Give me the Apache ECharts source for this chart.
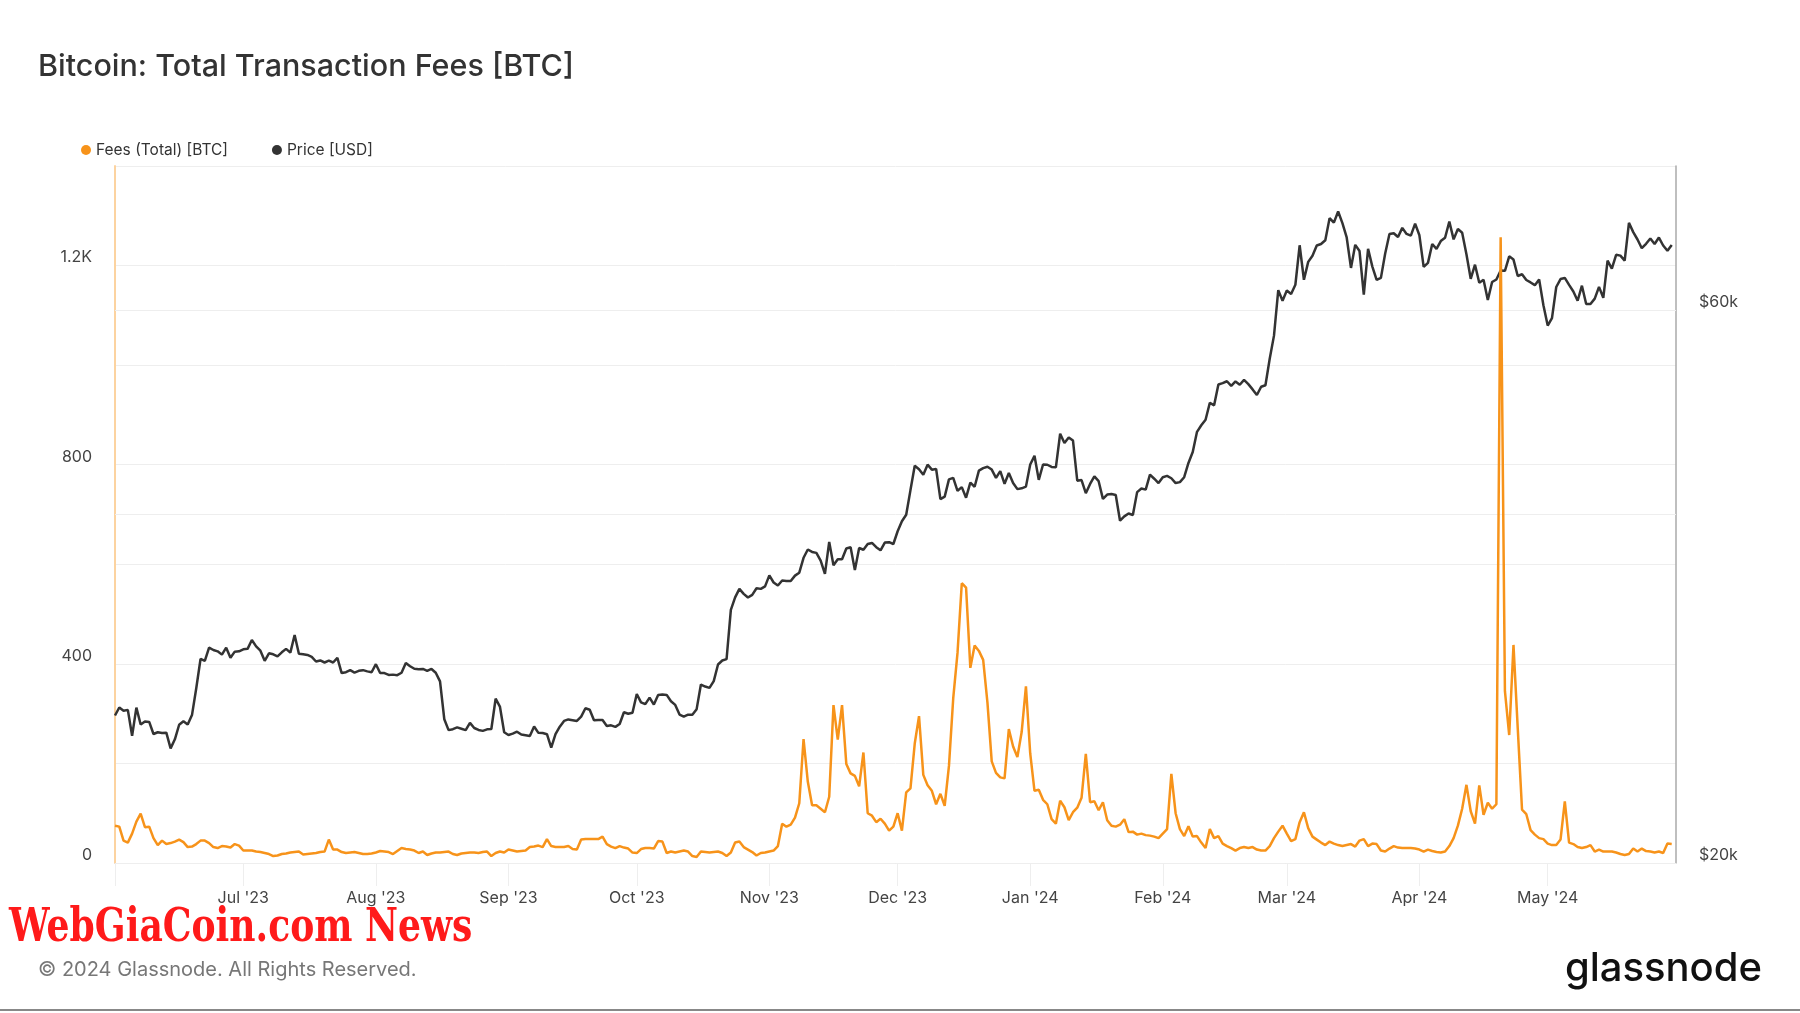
<!DOCTYPE html>
<html>
<head>
<meta charset="utf-8">
<script src="https://cdn.jsdelivr.net/npm/echarts@6/dist/echarts.min.js"></script>
<style>
html,body{margin:0;padding:0;background:#fff;}
#chart{width:1800px;height:1013px;}
</style>
</head>
<body>
<div id="chart"></div>
<script>
// ---------------- DATA ----------------
// daily series, first point 2023-06-01, last point 2024-05-30
const firstDay = [2023, 5, 1];           // year, monthIndex, day
const axisStart = '2023-06-01';
const axisEnd = '2024-05-31';
const monthNames = ['Jan','Feb','Mar','Apr','May','Jun','Jul','Aug','Sep','Oct','Nov','Dec'];

const feesBTC = [
  // Jun 2023
  75,73,45,41,59,83,99,72,73,50,36,45,38,40,43,47,42,32,33,38,45,45,40,32,30,34,33,31,38,35,
  // Jul 2023
  25,25,25,23,22,20,18,14,15,18,19,21,22,23,17,18,19,20,22,23,47,27,27,22,20,21,22,20,18,18,19,
  // Aug 2023
  21,24,23,22,18,24,30,28,27,25,20,23,16,19,21,21,22,23,18,16,19,20,21,21,20,22,23,14,20,23,21,
  // Sep 2023
  27,25,23,24,25,32,33,35,32,48,34,32,32,32,34,28,27,47,48,48,48,48,53,38,33,30,34,31,29,21,
  // Oct 2023
  20,28,30,30,29,44,43,20,23,21,23,25,23,14,12,23,22,21,22,23,20,14,21,41,43,32,27,22,15,20,21,
  // Nov 2023
  23,25,34,79,73,77,91,120,249,163,116,116,109,102,133,317,248,317,199,180,175,154,222,100,95,82,89,79,65,73,
  // Dec 2023
  100,65,142,150,240,295,177,156,145,118,139,115,195,331,422,562,553,392,437,426,408,322,204,181,172,170,269,234,213,263,355,
  // Jan 2024
  220,145,147,127,118,88,79,125,112,86,102,111,131,219,122,124,106,122,86,75,73,77,88,62,63,57,59,56,55,53,50,
  // Feb 2024
  59,68,179,100,68,54,74,53,54,41,30,68,50,54,39,34,30,25,30,32,30,32,27,25,25,34,50,63,75,
  // Mar 2024
  59,44,48,82,102,70,53,47,41,36,43,39,36,34,36,38,33,45,48,34,39,38,25,23,29,34,31,30,30,30,29,
  // Apr 2024
  27,23,27,24,22,21,23,34,50,75,109,157,104,79,156,97,121,109,118,1257,345,257,438,270,107,98,66,57,50,48,
  // May 2024
  39,36,36,47,124,41,38,32,30,32,36,23,27,23,23,23,21,18,16,18,29,23,29,24,23,21,23,20,39,38
];

const priceUSD = [
  // Jun 2023
  26820,27250,27070,27120,25760,27240,26340,26500,26480,25850,25940,25900,25920,25120,25580,
  26330,26510,26340,26840,28310,30010,29890,30690,30550,30470,30270,30690,30080,30450,30470,
  // Jul 2023
  30590,30620,31160,30770,30510,29900,30350,30290,30170,30410,30620,30390,31480,30320,30290,
  30250,30140,29860,29920,29800,29910,29800,30080,29180,29230,29350,29210,29310,29350,29280,29230,
  // Aug 2023
  29700,29180,29180,29070,29090,29060,29200,29770,29580,29430,29400,29420,29310,29420,29200,
  28700,26620,26050,26100,26190,26120,26050,26430,26160,26060,26010,26090,26110,27730,27300,25940,
  // Sep 2023
  25800,25870,25970,25820,25790,25750,26240,25910,25900,25840,25160,25840,26230,26530,26610,
  26570,26530,26760,27210,27130,26570,26580,26580,26260,26300,26220,26370,26990,26910,26970,
  // Oct 2023
  27990,27530,27430,27790,27410,27930,27960,27940,27590,27390,26870,26760,26860,26860,27160,
  28520,28410,28330,28720,29680,29920,30000,33090,33920,34500,34160,33910,34090,34540,34500,34670,
  // Nov 2023
  35440,34940,34730,35080,35050,35040,35420,35630,36700,37310,37130,37060,36500,35540,37880,
  36160,36600,36590,37390,37480,35810,37420,37290,37720,37800,37480,37250,37830,37860,37720,
  // Dec 2023
  38690,39470,39980,41990,44080,43770,43290,44170,43730,43790,41240,41450,42890,43020,41930,
  42240,41360,42620,42270,43650,43870,43990,43740,43020,43610,42520,43440,42580,42070,42140,42280,
  // Jan 2024
  44180,44950,42850,44180,44160,43970,43930,46970,46110,46630,46340,42780,42840,41730,42510,
  43150,42740,41260,41620,41660,41580,39510,39850,40080,39960,41820,42120,42030,43300,42950,42580,
  // Feb 2024
  43080,43190,42990,42580,42660,43080,44320,45300,47150,47770,48290,49960,49700,51810,51940,
  52140,51660,52120,51780,52280,51840,51300,50730,51570,51730,54520,57090,62500,61200,
  // Mar 2024
  62440,62030,63170,68330,63800,66110,66930,68300,68500,69020,72120,71480,73080,71400,69400,
  65320,68390,67550,61930,67860,65490,63780,64040,67210,69880,69990,69460,70740,69890,69650,71330,
  // Apr 2024
  69700,65450,65980,68510,67840,68900,69360,71620,69140,70590,70060,67120,63920,65740,63430,
  63810,61280,63510,63840,64990,64940,66840,66410,64280,64500,63770,63460,63120,63840,60640,
  // May 2024
  58250,59120,62890,63890,64030,63160,62330,61190,63050,60790,60790,61450,62900,61550,66270,
  65230,67050,66940,66280,71450,70140,69120,67930,68530,69270,68510,69390,68300,67580,68360
];

const feeTickValues = [0, 400, 800, 1200];
const feeTickLabels = ['0', '400', '800', '1.2K'];
const priceGridValues = [20000, 40000, 60000];
const priceGridLabels = ['$20k', '', '$60k'];

// ---------------- BUILD ----------------
const dates = feesBTC.map((_, i) => new Date(firstDay[0], firstDay[1], firstDay[2] + i).getTime());
const feeData = feesBTC.map((v, i) => [dates[i], v]);
const priceData = priceUSD.map((v, i) => [dates[i], v]);
const axisStartTs = new Date(firstDay[0], firstDay[1], firstDay[2]).getTime();

const FONT = 'Inter, "Noto Sans", sans-serif';
const ORANGE = '#f7931a';
const DARK = '#333333';

const chart = echarts.init(document.getElementById('chart'), null, {renderer: 'canvas'});

chart.setOption({
  animation: false,
  backgroundColor: '#ffffff',
  title: {
    text: 'Bitcoin: Total Transaction Fees [BTC]',
    left: 33,
    top: 46,
    textStyle: {fontFamily: FONT, fontSize: 30.5, fontWeight: 500, color: '#333333'}
  },
  legend: {
    left: 76,
    top: 137,
    icon: 'circle',
    itemWidth: 10,
    itemHeight: 10,
    itemGap: 44,
    textStyle: {fontFamily: FONT, fontSize: 15.5, color: '#333333'},
    data: [
      {name: 'Fees (Total) [BTC]', itemStyle: {color: ORANGE}},
      {name: 'Price [USD]', itemStyle: {color: DARK}}
    ]
  },
  grid: {left: 115, right: 124, top: 166, bottom: 150, containLabel: false},
  xAxis: {
    type: 'time',
    min: axisStart,
    max: axisEnd,
    minInterval: 28 * 86400000,
    maxInterval: 31 * 86400000,
    axisLine: {show: true, lineStyle: {color: '#e2e2e2', width: 1}},
    axisTick: {show: true, length: 23, lineStyle: {color: '#eeeeee', width: 1}},
    splitLine: {show: false},
    axisLabel: {
      showMinLabel: false,
      showMaxLabel: false,
      margin: 27,
      fontFamily: FONT,
      fontSize: 16,
      color: '#444444',
      formatter: function (val) {
        if (val <= axisStartTs + 3600000) return '';
        const d = new Date(val);
        return monthNames[d.getMonth()] + " '" + String(d.getFullYear()).slice(2);
      }
    }
  },
  yAxis: [
    {
      type: 'value',
      position: 'left',
      min: 0,
      max: 1400,
      interval: 200,
      axisLine: {show: true, lineStyle: {color: '#fcd3a0', width: 2}},
      axisTick: {show: false},
      splitLine: {show: true, lineStyle: {color: '#eeeeee', width: 1}},
      axisLabel: {
        margin: 23,
        verticalAlign: 'bottom',
        fontFamily: FONT,
        fontSize: 16,
        color: '#444444',
        formatter: function (v) {
          const k = feeTickValues.indexOf(v);
          return k >= 0 ? feeTickLabels[k] : '';
        }
      }
    },
    {
      type: 'log',
      logBase: 10,
      position: 'right',
      min: 20000,
      max: 80000,
      axisLine: {show: true, lineStyle: {color: '#aaaaaa', width: 1.5}},
      axisTick: {show: false},
      axisLabel: {show: false},
      splitLine: {show: false}
    }
  ],
  series: [
    {
      name: 'Price [USD]',
      type: 'line',
      yAxisIndex: 1,
      data: priceData,
      showSymbol: false,
      z: 2,
      lineStyle: {color: DARK, width: 2.5},
      itemStyle: {color: DARK},
      markLine: {
        silent: true,
        symbol: 'none',
        z: 1,
        lineStyle: {color: '#eeeeee', type: 'solid', width: 1},
        label: {
          show: true,
          position: 'end',
          distance: 23,
          verticalAlign: 'bottom',
          fontFamily: FONT,
          fontSize: 16,
          color: '#444444'
        },
        emphasis: {disabled: true},
        data: priceGridValues.map((v, i) => ({
          yAxis: v,
          label: priceGridLabels[i] ? {formatter: priceGridLabels[i]} : {show: false}
        }))
      }
    },
    {
      name: 'Fees (Total) [BTC]',
      type: 'line',
      yAxisIndex: 0,
      data: feeData,
      showSymbol: false,
      z: 3,
      lineStyle: {color: ORANGE, width: 2.5},
      itemStyle: {color: ORANGE}
    }
  ],
  graphic: [
    {
      type: 'text',
      left: 9,
      top: 906,
      scaleX: 0.785,
      style: {
        text: 'WebGiaCoin.com News',
        fill: '#ff1a1a',
        font: 'bold 46px "DejaVu Serif", serif'
      }
    },
    {
      type: 'text',
      left: 38,
      top: 960,
      style: {
        text: '\u00a9 2024 Glassnode. All Rights Reserved.',
        fill: '#777777',
        font: '20px Inter, "Noto Sans", sans-serif'
      }
    },
    {
      type: 'text',
      right: 38,
      top: 949,
      style: {
        text: 'glassnode',
        fill: '#111111',
        font: '500 40px Inter, "Noto Sans", sans-serif'
      }
    },
    {
      type: 'rect',
      left: 0,
      top: 1009,
      shape: {width: 1800, height: 2},
      style: {fill: '#888888'}
    }
  ]
});
</script>
</body>
</html>
